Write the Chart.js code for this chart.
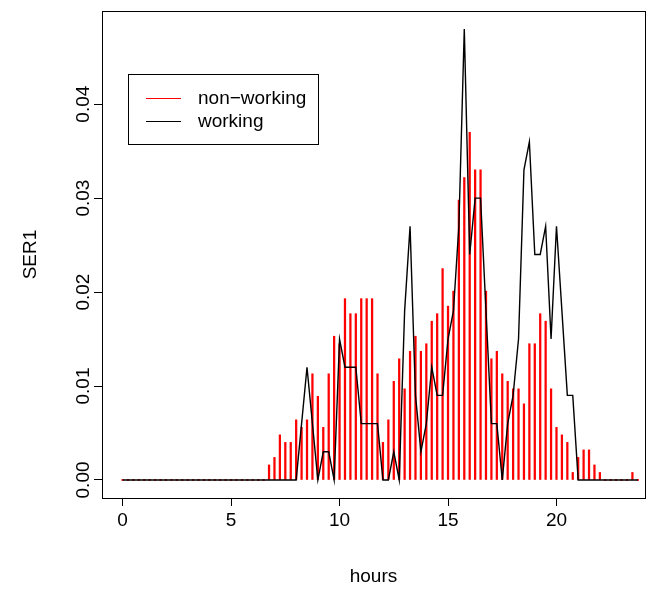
<!DOCTYPE html>
<html>
<head>
<meta charset="utf-8">
<script src="https://cdn.jsdelivr.net/npm/chart.js@4/dist/chart.umd.min.js"></script>
<style>
body { margin: 0; background: #fff; }
canvas { display: block; }
</style>
</head>
<body>
<canvas id="myChart" width="654" height="591"></canvas>
<script>
// quarter hours
var hours = [0, 0.25, 0.5, 0.75, 1, 1.25, 1.5, 1.75, 2, 2.25, 2.5, 2.75,
  3, 3.25, 3.5, 3.75, 4, 4.25, 4.5, 4.75, 5, 5.25, 5.5, 5.75,
  6, 6.25, 6.5, 6.75, 7, 7.25, 7.5, 7.75, 8, 8.25, 8.5, 8.75,
  9, 9.25, 9.5, 9.75, 10, 10.25, 10.5, 10.75, 11, 11.25, 11.5, 11.75,
  12, 12.25, 12.5, 12.75, 13, 13.25, 13.5, 13.75, 14, 14.25, 14.5, 14.75,
  15, 15.25, 15.5, 15.75, 16, 16.25, 16.5, 16.75, 17, 17.25, 17.5, 17.75,
  18, 18.25, 18.5, 18.75, 19, 19.25, 19.5, 19.75, 20, 20.25, 20.5, 20.75,
  21, 21.25, 21.5, 21.75, 22, 22.25, 22.5, 22.75, 23, 23.25, 23.5, 23.75];

var nonWorking = [0, 0, 0, 0, 0, 0, 0, 0, 0, 0, 0, 0,
  0, 0, 0, 0, 0, 0, 0, 0, 0, 0, 0, 0,
  0, 0, 0, 0.0016, 0.0024, 0.0048, 0.0040, 0.0040, 0.0064, 0.0056, 0.0064, 0.0113,
  0.0089, 0.0056, 0.0113, 0.0153, 0.0145, 0.0193, 0.0177, 0.0177, 0.0193, 0.0193, 0.0193, 0.0113,
  0.0040, 0.0064, 0.0105, 0.0129, 0.0097, 0.0137, 0.0153, 0.0137, 0.0145, 0.0169, 0.0177, 0.0225,
  0.0185, 0.0201, 0.0298, 0.0322, 0.0370, 0.0330, 0.0330, 0.0201, 0.0129, 0.0137, 0.0113, 0.0105,
  0.0097, 0.0097, 0.0081, 0.0145, 0.0145, 0.0177, 0.0169, 0.0097, 0.0056, 0.0048, 0.0040, 0.0008,
  0.0024, 0.0032, 0.0032, 0.0016, 0.0008, 0, 0, 0, 0, 0, 0.0008, 0];

var working = [0, 0, 0, 0, 0, 0, 0, 0, 0, 0, 0, 0,
  0, 0, 0, 0, 0, 0, 0, 0, 0, 0, 0, 0,
  0, 0, 0, 0, 0, 0, 0, 0, 0, 0.006, 0.012, 0.006,
  0, 0.003, 0.003, 0, 0.015, 0.012, 0.012, 0.012, 0.006, 0.006, 0.006, 0.006,
  0, 0, 0.003, 0, 0.018, 0.027, 0.009, 0.003, 0.006, 0.012, 0.009, 0.009,
  0.015, 0.018, 0.027, 0.048, 0.024, 0.030, 0.030, 0.018, 0.006, 0.006, 0, 0.006,
  0.009, 0.015, 0.033, 0.036, 0.024, 0.024, 0.027, 0.015, 0.027, 0.018, 0.009, 0.009,
  0, 0, 0, 0, 0, 0, 0, 0, 0, 0, 0, 0];

var xTicks = [0, 5, 10, 15, 20];
var yTicks = [0, 0.01, 0.02, 0.03, 0.04];
var seriesNames = ["non\u2212working", "working"];

var font = { family: "'Liberation Sans', Arial, Helvetica, sans-serif", size: 19 };

// box around plot + legend + rotated y labels (R style)
var rStuff = {
  id: 'rStuff',
  afterDraw: function(chart) {
    var ctx = chart.ctx;
    var a = chart.chartArea;
    ctx.save();
    ctx.strokeStyle = '#000';
    ctx.lineWidth = 1;
    ctx.strokeRect(Math.round(a.left) + 0.5, Math.round(a.top) + 0.5,
      Math.round(a.right - a.left), Math.round(a.bottom - a.top));

    // y tick labels, rotated
    var ys = chart.scales.y;
    ctx.fillStyle = '#000';
    ctx.font = font.size + "px " + font.family;
    ctx.textAlign = 'center';
    ctx.textBaseline = 'middle';
    yTicks.forEach(function(v) {
      ctx.save();
      ctx.translate(84, ys.getPixelForValue(v));
      ctx.rotate(-Math.PI / 2);
      ctx.fillText(v.toFixed(2), 0, 0);
      ctx.restore();
    });

    // legend
    ctx.strokeRect(128.5, 74.5, 190, 70);
    ctx.lineWidth = 1.2;
    ctx.strokeStyle = '#ff0000';
    ctx.beginPath(); ctx.moveTo(146, 98.5); ctx.lineTo(181, 98.5); ctx.stroke();
    ctx.strokeStyle = '#000';
    ctx.beginPath(); ctx.moveTo(146, 121.5); ctx.lineTo(181, 121.5); ctx.stroke();
    ctx.textAlign = 'left';
    ctx.fillText(seriesNames[0], 198, 99);
    ctx.fillText(seriesNames[1], 198, 122);
    ctx.restore();
  }
};

var ctx = document.getElementById('myChart').getContext('2d');
var myChart = new Chart(ctx, {
  type: 'bar',
  data: {
    datasets: [{
      type: 'line',
      label: seriesNames[1],
      data: hours.map(function(h, i) { return { x: h, y: working[i] }; }),
      borderColor: '#000',
      borderWidth: 1.4,
      pointRadius: 0,
      tension: 0,
      fill: false,
      order: 1
    }, {
      type: 'bar',
      label: seriesNames[0],
      data: hours.map(function(h, i) { return { x: h, y: nonWorking[i] }; }),
      backgroundColor: '#ff0000',
      barThickness: 1.6,
      minBarLength: 1,
      order: 2
    }]
  },
  options: {
    responsive: false,
    animation: false,
    devicePixelRatio: 1,
    layout: { padding: { left: 0, right: 9, top: 11, bottom: 0 } },
    plugins: { legend: { display: false }, tooltip: { enabled: false } },
    scales: {
      x: {
        type: 'linear',
        offset: false,
        min: -0.95,
        max: 24.08,
        afterBuildTicks: function(s) { s.ticks = xTicks.map(function(v) { return { value: v }; }); },
        afterFit: function(s) { s.height = 93; },
        ticks: { font: font, color: '#000', padding: 3, maxRotation: 0, autoSkip: false },
        grid: { offset: false, drawOnChartArea: false, drawTicks: true, tickLength: 8, color: '#000' },
        border: { display: false },
        title: { display: true, text: 'hours', font: font, color: '#000', padding: { top: 0, bottom: 3 } }
      },
      y: {
        type: 'linear',
        min: -0.00192,
        max: 0.04992,
        afterBuildTicks: function(s) { s.ticks = yTicks.map(function(v) { return { value: v }; }); },
        afterFit: function(s) { s.width = 102; },
        ticks: { display: false },
        grid: { drawOnChartArea: false, drawTicks: true, tickLength: 8, color: '#000' },
        border: { display: false },
        title: { display: true, text: 'SER1', font: font, color: '#000', padding: { top: 19, bottom: 0 } }
      }
    }
  },
  plugins: [rStuff]
});
</script>
</body>
</html>
